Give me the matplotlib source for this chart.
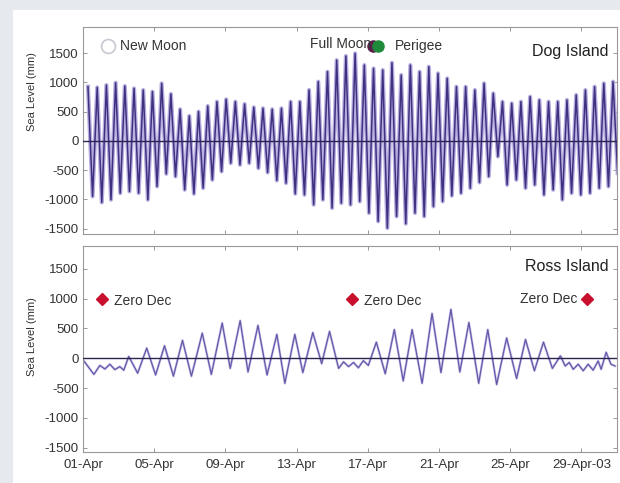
import numpy as np
import matplotlib.pyplot as plt
from matplotlib.patches import Rectangle

plt.rcParams['font.family'] = ['Liberation Sans', 'DejaVu Sans']
plt.rcParams['axes.unicode_minus'] = False

# Dog Island - high / low water of each semi-diurnal tide (mm), 01-Apr .. 30-Apr
dog_highs = [926, 914, 954, 994, 937, 897, 869, 841, 983, 801, 540, 426, 500, 596,
             670, 710, 670, 630, 574, 557, 540, 557, 670, 670, 870, 1012, 1182, 1380, 1449,
             1494, 1295, 1238, 1210, 1335, 1125, 1295, 1181, 1267, 1153, 1068, 926, 926, 869, 983,
             812, 670, 642, 670, 755, 699, 670, 670, 699, 784, 869, 926, 983, 1011]
dog_lows = [-949, -1051, -1005, -892, -863, -892, -1005, -778, -562, -608, -835, -903, -806, -665,
            -523, -380, -409, -380, -466, -540, -676, -721, -903, -920, -1090, -1005, -1147, -1062, -1090,
            -1034, -1232, -1374, -1488, -1289, -1414, -1232, -1289, -1119, -1034, -937, -892, -806, -710, -608,
            -267, -750, -665, -806, -750, -920, -835, -1005, -892, -920, -892, -806, -778, -551]
dog_start = 0.28          # days after 01-Apr 00:00 of the first high water
tide_period = 12.42 / 24  # days

# Ross Island - turning points of the (mostly diurnal) tide
ross_days = [0.06, 0.34, 0.61, 0.95, 1.23, 1.51, 1.79, 2.07, 2.29, 2.57, 3.07, 3.58, 4.08, 4.58,
             5.08, 5.59, 6.09, 6.70, 7.21, 7.82, 8.27, 8.83, 9.27, 9.83, 10.34, 10.89, 11.34, 11.90,
             12.35, 12.91, 13.41, 13.85, 14.36, 14.64, 14.92, 15.20, 15.47, 15.75, 16.03, 16.48,
             16.98, 17.49, 17.99, 18.49, 19.05, 19.61, 20.11, 20.67, 21.17, 21.68, 22.23, 22.74,
             23.24, 23.80, 24.36, 24.86, 25.36, 25.87, 26.37, 26.82, 27.09, 27.32, 27.54, 27.82,
             28.10, 28.38, 28.66, 28.94, 29.11, 29.39, 29.66, 29.89]
ross_level = [-50, -160, -270, -120, -180, -100, -190, -140, -200, 30, -250, 170, -280, 210,
              -300, 300, -300, 420, -270, 590, -170, 630, -230, 550, -280, 400, -420, 400,
              -240, 430, -90, 450, -170, -60, -140, -70, -160, -40, -120, 270,
              -260, 480, -380, 480, -420, 750, -240, 820, -230, 600, -420, 480,
              -440, 340, -340, 315, -210, 270, -170, 40, -130, -70, -185, -100,
              -210, -100, -200, -45, -185, 100, -100, -130]

tick_days = [0, 4, 8, 12, 16, 20, 24, 28]
tick_labels = ['01-Apr', '05-Apr', '09-Apr', '13-Apr', '17-Apr', '21-Apr', '25-Apr', '29-Apr-03']
ytick_vals = [-1500, -1000, -500, 0, 500, 1000, 1500]

new_moon_day = 1.4
full_moon_day = 16.3
perigee_day = 16.6
zero_dec_days = [1.06, 15.1, 28.3]
marker_level = 1620
zero_dec_level = 1000

# high and low alternate, half a tide apart
n = len(dog_highs)
t_high = dog_start + np.arange(n) * tide_period
dog_t = np.column_stack([t_high, t_high + tide_period / 2]).ravel()
dog_level = np.column_stack([dog_highs, dog_lows]).ravel()

W, H = 620, 483
fig = plt.figure(figsize=(W / 100, H / 100), dpi=100, facecolor='#e6eaee')
fig.patches.append(Rectangle((13 / W, 0), 1, 1 - 10 / H, transform=fig.transFigure,
                             facecolor='white', edgecolor='none', zorder=-10))

ax1 = fig.add_axes([83 / W, (H - 234) / H, 534 / W, 207 / H])
ax2 = fig.add_axes([83 / W, (H - 452) / H, 534 / W, 206 / H])

# lavender halo under the dark trace, like the blurred original
ax1.plot(dog_t, dog_level, color='#b9aee0', lw=3.0, solid_joinstyle='round')
ax1.plot(dog_t, dog_level, color='#3f3180', lw=1.1)
ax2.plot(ross_days, ross_level, color='#cfc7ec', lw=1.8, solid_joinstyle='round')
ax2.plot(ross_days, ross_level, color='#6558a8', lw=0.9)

for ax in (ax1, ax2):
    ax.axhline(0, color='#2a2450', lw=1.0, zorder=3)
    ax.set_xlim(0, 30)
    ax.set_xticks(tick_days)
    ax.set_yticks(ytick_vals)
    ax.tick_params(direction='in', top=True, right=True, length=3, width=0.6,
                   color='#888888', labelsize=9.5, labelcolor='#333333', pad=3)
    ax.set_ylabel('Sea Level (mm)', fontsize=8, color='#333333')
    for s in ax.spines.values():
        s.set_color('#999999')
        s.set_linewidth(0.8)

ax1.set_ylim(-1590, 1945)
ax2.set_ylim(-1570, 1880)
ax1.set_xticklabels([])
ax2.set_xticklabels(tick_labels)
ax2.tick_params(axis='x', pad=5)
ax1.yaxis.set_label_coords(-46 / 534, 0.69)
ax2.yaxis.set_label_coords(-46 / 534, 0.56)

# moon phase / perigee markers
ax1.plot(new_moon_day, marker_level, 'o', ms=10, mfc='white', mec='#c8c8d0', mew=1.2)
ax1.text(new_moon_day + 0.7, marker_level, 'New Moon', fontsize=10, color='#333333', va='center')
ax1.plot(full_moon_day, marker_level, 'o', ms=8, mfc='#5a1f4a', mec='#5a1f4a')
ax1.plot(perigee_day, marker_level, 'o', ms=8, mfc='#1f8a3a', mec='#1f8a3a')
ax1.text(full_moon_day - 0.1, marker_level + 40, 'Full Moon', fontsize=10, color='#333333',
         va='center', ha='right')
ax1.text(perigee_day + 0.9, marker_level, 'Perigee', fontsize=10, color='#333333', va='center')
ax1.text(0.985, 0.88, 'Dog Island', transform=ax1.transAxes, fontsize=11.5, color='#222222',
         ha='right', va='center')

# zero declination markers
for i, d in enumerate(zero_dec_days):
    ax2.plot(d, zero_dec_level, 'D', ms=6, mfc='#c8102e', mec='#c8102e')
    if i < 2:
        ax2.text(d + 0.7, zero_dec_level - 40, 'Zero Dec', fontsize=10, color='#333333', va='center')
    else:
        ax2.text(d - 0.5, zero_dec_level, 'Zero Dec', fontsize=10, color='#333333',
                 va='center', ha='right')
ax2.text(0.985, 0.9, 'Ross Island', transform=ax2.transAxes, fontsize=11.5, color='#222222',
         ha='right', va='center')

fig.savefig('out.png', dpi=100, facecolor=fig.get_facecolor())
